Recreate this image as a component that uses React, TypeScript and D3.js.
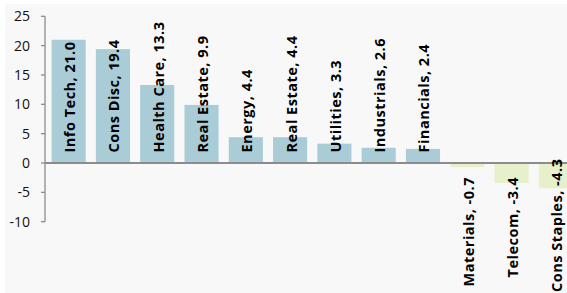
import React, { useEffect, useRef } from "react";
import * as d3 from "d3";

const categories = [
  "Info Tech", "Cons Disc", "Health Care", "Real Estate", "Energy", "Real Estate",
  "Utilities", "Industrials", "Financials", "Materials", "Telecom", "Cons Staples",
];
const values = [21.0, 19.4, 13.3, 9.9, 4.4, 4.4, 3.3, 2.6, 2.4, -0.7, -3.4, -4.3];
const yTicks = [25, 20, 15, 10, 5, 0, -5, -10];

const W = 567;
const H = 293;

export default function App() {
  const ref = useRef<SVGSVGElement>(null);

  useEffect(() => {
    const svg = d3.select(ref.current);
    svg.selectAll("*").remove();

    svg.append("rect").attr("x", 0).attr("y", 0).attr("width", W).attr("height", H).attr("fill", "#ffffff");
    svg.append("rect").attr("x", 5).attr("y", 4).attr("width", W - 5).attr("height", H - 4).attr("fill", "#f8f8f8");

    const y = d3.scaleLinear().domain([-10, 25]).range([221.7, 16.3]);
    const x = d3.scaleBand<number>()
      .domain(d3.range(categories.length))
      .range([46.5, 578])
      .paddingInner(0.23)
      .paddingOuter(0.115);

    const y0 = y(0);

    // bars
    svg.append("g").selectAll("rect").data(values).join("rect")
      .attr("x", (_, i) => x(i)!)
      .attr("width", x.bandwidth())
      .attr("y", (d) => (d >= 0 ? y(d) : y0))
      .attr("height", (d) => Math.abs(y(d) - y0))
      .attr("fill", (d) => (d >= 0 ? "#a9ccd7" : "#e6f0cb"));

    // y axis
    const ax = svg.append("g");
    ax.append("line").attr("x1", 45).attr("x2", 45).attr("y1", y(25)).attr("y2", y(-10))
      .attr("stroke", "#8c8c8c").attr("stroke-width", 1.3);
    yTicks.forEach((t) => {
      ax.append("line").attr("x1", 41).attr("x2", 45).attr("y1", y(t)).attr("y2", y(t))
        .attr("stroke", "#8c8c8c").attr("stroke-width", 1.3);
      ax.append("text").attr("x", 30).attr("y", y(t)).attr("dy", "0.35em")
        .attr("text-anchor", "end")
        .attr("font-family", "'Open Sans', sans-serif").attr("font-size", 14)
        .attr("fill", "#111").text(String(t));
    });

    // zero line
    svg.append("line").attr("x1", 45).attr("x2", W).attr("y1", y0).attr("y2", y0)
      .attr("stroke", "#8c8c8c").attr("stroke-width", 1.8);

    // labels
    const lg = svg.append("g");
    values.forEach((v, i) => {
      const cx = x(i)! + x.bandwidth() / 2 + 6.5;
      const label = `${categories[i]}, ${v.toFixed(1)}`;
      const t = lg.append("text")
        .attr("font-family", "'Open Sans', sans-serif")
        .attr("font-weight", "bold")
        .attr("font-size", 14.5)
        .attr("letter-spacing", 0.5)
        .attr("fill", "#000")
        .text(label);
      if (v >= 0) {
        t.attr("text-anchor", "start").attr("transform", `translate(${cx},${y0 - 10.5}) rotate(-90)`);
      } else {
        const len = (t.node() as SVGTextElement).getComputedTextLength();
        const endY = Math.min(177, 292 - len);
        t.attr("text-anchor", "end").attr("transform", `translate(${cx},${endY}) rotate(-90)`);
      }
    });
  }, []);

  return (
    <svg ref={ref} width={W} height={H} style={{ position: "absolute", left: 0, top: 0 }} />
  );
}
